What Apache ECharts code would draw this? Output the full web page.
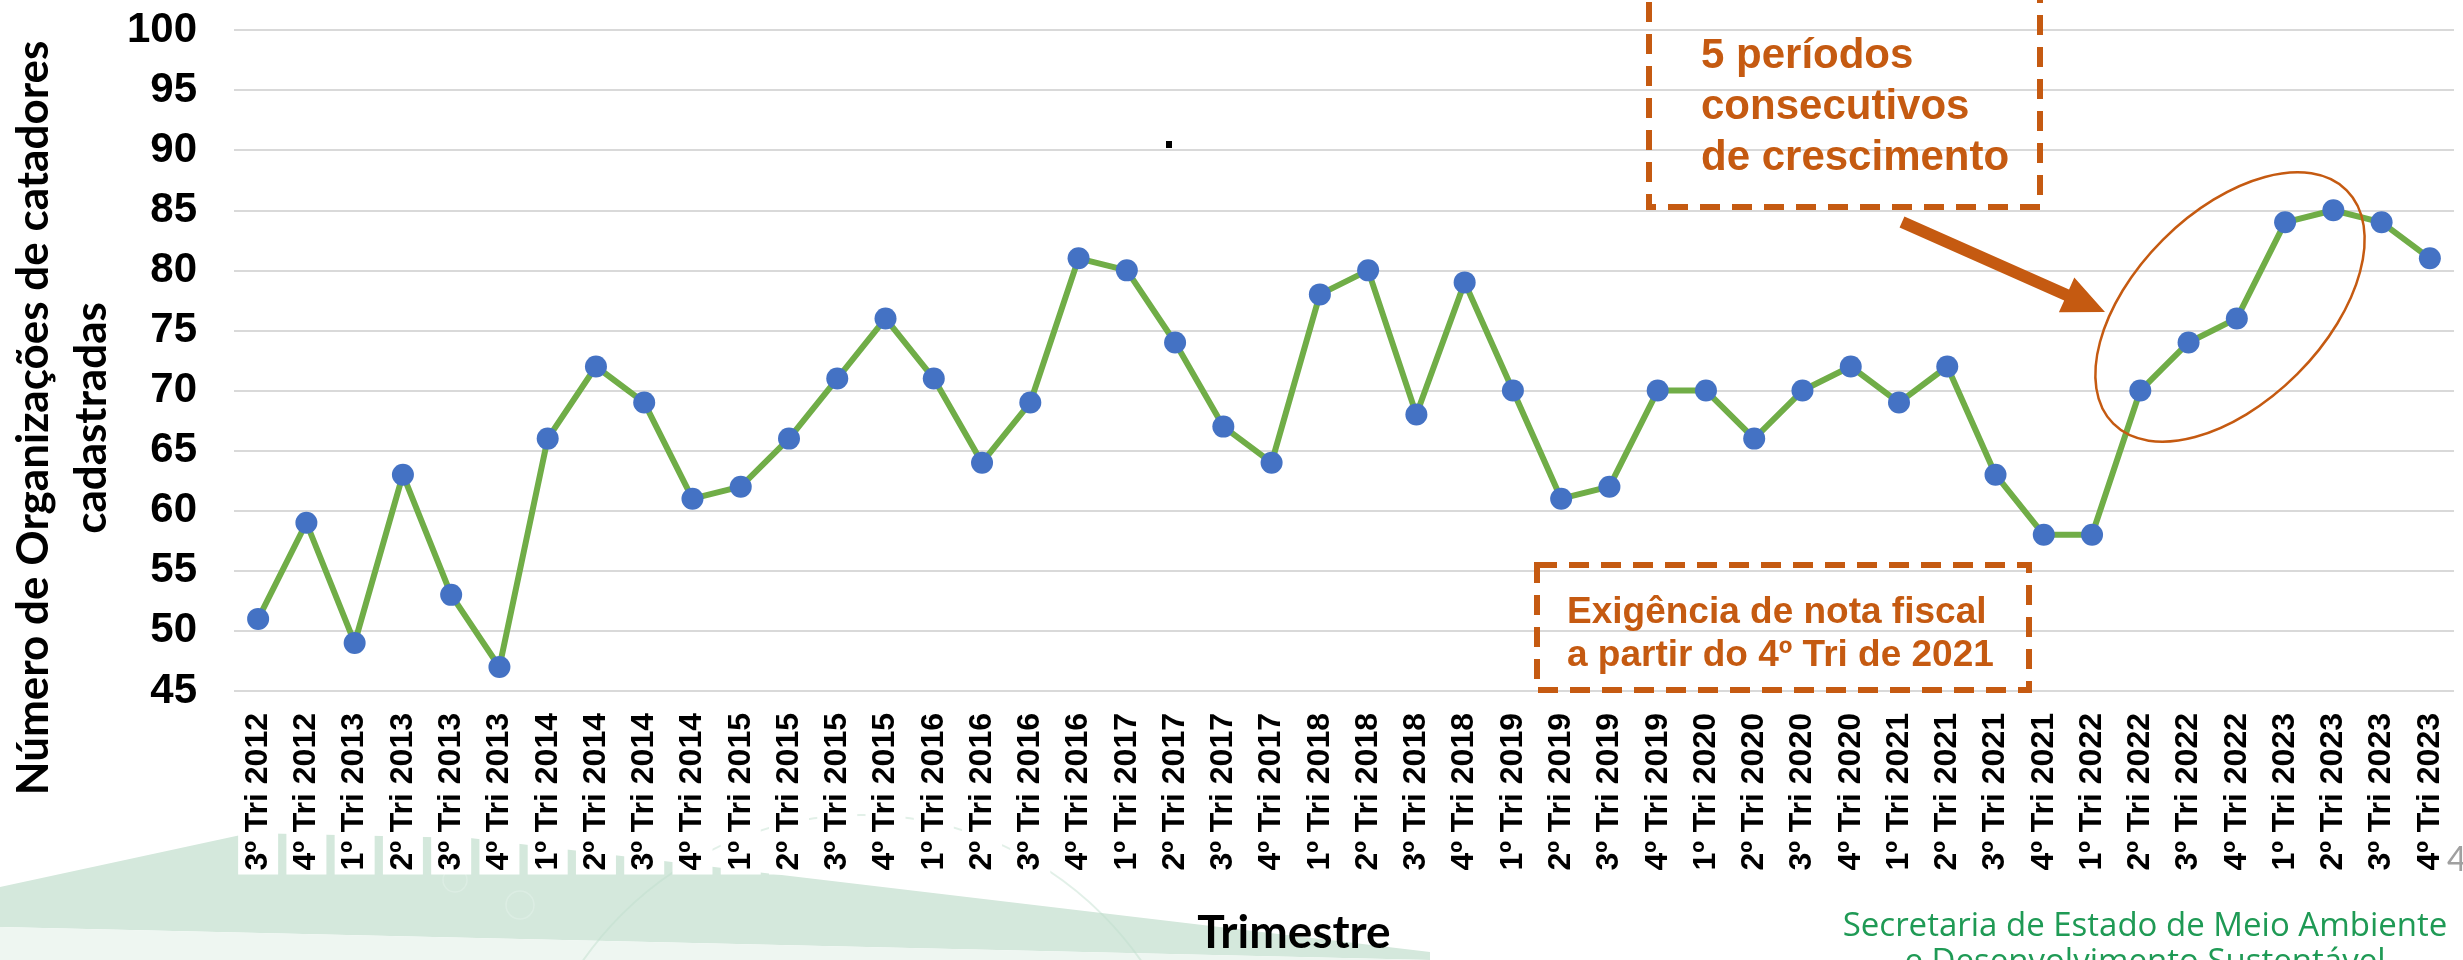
<!DOCTYPE html>
<html>
<head>
<meta charset="utf-8">
<script src="https://cdn.jsdelivr.net/npm/echarts@6/dist/echarts.min.js"></script>
<style>
  html, body { margin: 0; padding: 0; background: #ffffff; }
  #chart { width: 2463px; height: 960px; }
</style>
</head>
<body>
<div id="chart"></div>
<script>
// Quarter labels along the x axis
const quarters = [
  '3º Tri 2012', '4º Tri 2012',
  '1º Tri 2013', '2º Tri 2013', '3º Tri 2013', '4º Tri 2013',
  '1º Tri 2014', '2º Tri 2014', '3º Tri 2014', '4º Tri 2014',
  '1º Tri 2015', '2º Tri 2015', '3º Tri 2015', '4º Tri 2015',
  '1º Tri 2016', '2º Tri 2016', '3º Tri 2016', '4º Tri 2016',
  '1º Tri 2017', '2º Tri 2017', '3º Tri 2017', '4º Tri 2017',
  '1º Tri 2018', '2º Tri 2018', '3º Tri 2018', '4º Tri 2018',
  '1º Tri 2019', '2º Tri 2019', '3º Tri 2019', '4º Tri 2019',
  '1º Tri 2020', '2º Tri 2020', '3º Tri 2020', '4º Tri 2020',
  '1º Tri 2021', '2º Tri 2021', '3º Tri 2021', '4º Tri 2021',
  '1º Tri 2022', '2º Tri 2022', '3º Tri 2022', '4º Tri 2022',
  '1º Tri 2023', '2º Tri 2023', '3º Tri 2023', '4º Tri 2023'
];

// Registered waste-picker organizations per quarter
const organizacoes = [
  51, 59,
  49, 63, 53, 47,
  66, 72, 69, 61,
  62, 66, 71, 76,
  71, 64, 69, 81,
  80, 74, 67, 64,
  78, 80, 68, 79,
  70, 61, 62, 70,
  70, 66, 70, 72,
  69, 72, 63, 58,
  58, 70, 74, 76,
  84, 85, 84, 81
];

// Value axis range
const yRange = [45, 100];
const yStep = 5;

// Texts
const yAxisTitle = ['Número de Organizações de catadores', 'cadastradas'];
const xAxisTitle = 'Trimestre';
const noteGrowth = ['5 períodos', 'consecutivos', 'de crescimento'];
const noteInvoice = ['Exigência de nota fiscal', 'a partir do 4º Tri de 2021'];
const footer = ['Secretaria de Estado de Meio Ambiente', 'e Desenvolvimento Sustentável'];
const pageNumber = '4';

const ORANGE = '#c55a11';

// Block arrow outline from tail to head
function arrowPoints(tail, head, shaftHalf, headLen, headHalf) {
  const dx = head[0] - tail[0], dy = head[1] - tail[1];
  const len = Math.hypot(dx, dy);
  const ux = dx / len, uy = dy / len;
  const nx = -uy, ny = ux;
  const bx = head[0] - ux * headLen, by = head[1] - uy * headLen;
  return [
    [tail[0] + nx * shaftHalf, tail[1] + ny * shaftHalf],
    [bx + nx * shaftHalf, by + ny * shaftHalf],
    [bx + nx * headHalf, by + ny * headHalf],
    head,
    [bx - nx * headHalf, by - ny * headHalf],
    [bx - nx * shaftHalf, by - ny * shaftHalf],
    [tail[0] - nx * shaftHalf, tail[1] - ny * shaftHalf]
  ];
}

const chart = echarts.init(document.getElementById('chart'), null, { renderer: 'canvas' });

chart.setOption({
  backgroundColor: '#ffffff',
  animation: false,
  grid: { left: 234, right: 9, top: 30, bottom: 269, containLabel: false },
  xAxis: {
    type: 'category',
    data: quarters,
    boundaryGap: true,
    axisLine: { show: false },
    axisTick: { show: false },
    axisLabel: {
      rotate: 90,
      interval: 0,
      margin: 18,
      color: '#000000',
      fontFamily: 'Liberation Sans, Arial, sans-serif',
      fontWeight: 'bold',
      fontSize: 32,
      lineHeight: 34,
      backgroundColor: '#ffffff',
      padding: [3, 4, 3, 4]
    },
    z: 5
  },
  yAxis: {
    type: 'value',
    min: yRange[0],
    max: yRange[1],
    interval: yStep,
    axisLine: { show: false },
    axisTick: { show: false },
    axisLabel: {
      margin: 37,
      color: '#000000',
      fontFamily: 'Liberation Sans, Arial, sans-serif',
      fontWeight: 'bold',
      fontSize: 42
    },
    splitLine: { lineStyle: { color: '#d9d9d9', width: 2 } }
  },
  series: [{
    type: 'line',
    data: organizacoes,
    symbol: 'circle',
    symbolSize: 22,
    lineStyle: { color: '#70ad47', width: 6 },
    itemStyle: { color: '#4472c4' },
    z: 3
  }],
  graphic: [
    // slide decoration at the bottom
    {
      type: 'polygon', z: -10, silent: true,
      shape: { points: [[0, 887], [250, 833], [470, 838], [1430, 952], [1430, 960], [0, 927]] },
      style: { fill: '#d4e8dc' }
    },
    {
      type: 'polygon', z: -10, silent: true,
      shape: { points: [[0, 927], [1430, 960], [0, 960]] },
      style: { fill: '#eef6f1' }
    },
    {
      type: 'circle', z: -9, silent: true,
      shape: { cx: 862, cy: 1155, r: 340 },
      style: { fill: 'none', stroke: 'rgba(190, 222, 203, 0.45)', lineWidth: 2 }
    },
    {
      type: 'circle', z: -9, silent: true,
      shape: { cx: 455, cy: 880, r: 12 },
      style: { fill: 'none', stroke: 'rgba(225, 240, 231, 0.6)', lineWidth: 1.5 }
    },
    {
      type: 'circle', z: -9, silent: true,
      shape: { cx: 520, cy: 905, r: 14 },
      style: { fill: 'none', stroke: 'rgba(225, 240, 231, 0.6)', lineWidth: 1.5 }
    },
    // axis titles
    {
      type: 'text', x: 63, y: 418, rotation: Math.PI / 2, z: 10,
      style: {
        text: yAxisTitle.join('\n'),
        font: 'bold 44px Lato, "Open Sans", sans-serif',
        fill: '#000000', align: 'center', verticalAlign: 'middle', lineHeight: 58
      }
    },
    {
      type: 'text', x: 1294, y: 933, z: 10,
      style: {
        text: xAxisTitle,
        font: 'bold 46px Lato, "Open Sans", sans-serif',
        fill: '#000000', align: 'center', verticalAlign: 'middle'
      }
    },
    // growth note box
    {
      type: 'rect', z: 10,
      shape: { x: 1649, y: -10, width: 391, height: 217 },
      style: { fill: 'none', stroke: ORANGE, lineWidth: 6, lineDash: [20, 12] }
    },
    {
      type: 'text', x: 1701, y: 107, z: 11,
      style: {
        text: noteGrowth.join('\n'),
        font: 'bold 42px "Liberation Sans", Arial, sans-serif',
        fill: ORANGE, align: 'left', verticalAlign: 'middle', lineHeight: 51
      }
    },
    {
      type: 'polygon', z: 10,
      shape: { points: arrowPoints([1902, 222], [2105, 312], 6, 42, 19) },
      style: { fill: ORANGE }
    },
    {
      type: 'ellipse', z: 10, x: 2230, y: 307, rotation: Math.PI / 4,
      shape: { cx: 0, cy: 0, rx: 165, ry: 95 },
      style: { fill: 'none', stroke: ORANGE, lineWidth: 2.5 }
    },
    // invoice note box
    {
      type: 'rect', z: 10,
      shape: { x: 1537, y: 565, width: 492, height: 125 },
      style: { fill: 'none', stroke: ORANGE, lineWidth: 6, lineDash: [20, 12] }
    },
    {
      type: 'text', x: 1567, y: 634, z: 11,
      style: {
        text: noteInvoice.join('\n'),
        font: 'bold 37px "Liberation Sans", Arial, sans-serif',
        fill: ORANGE, align: 'left', verticalAlign: 'middle', lineHeight: 43
      }
    },
    // stray period on the slide
    {
      type: 'rect', z: 10,
      shape: { x: 1166, y: 141, width: 6, height: 7 },
      style: { fill: '#000000' }
    },
    // page number and footer
    {
      type: 'text', x: 2447, y: 860, z: 10,
      style: {
        text: pageNumber,
        font: '34px Lato, sans-serif',
        fill: '#a0a0a0', align: 'left', verticalAlign: 'middle'
      }
    },
    {
      type: 'text', x: 2145, y: 943, z: 10,
      style: {
        text: footer[0],
        font: '33px "Open Sans", sans-serif',
        fill: '#1f9a55', align: 'center', verticalAlign: 'bottom'
      }
    },
    {
      type: 'text', x: 2145, y: 979, z: 10,
      style: {
        text: footer[1],
        font: '33px "Open Sans", sans-serif',
        fill: '#1f9a55', align: 'center', verticalAlign: 'bottom'
      }
    }
  ]
});
</script>
</body>
</html>
